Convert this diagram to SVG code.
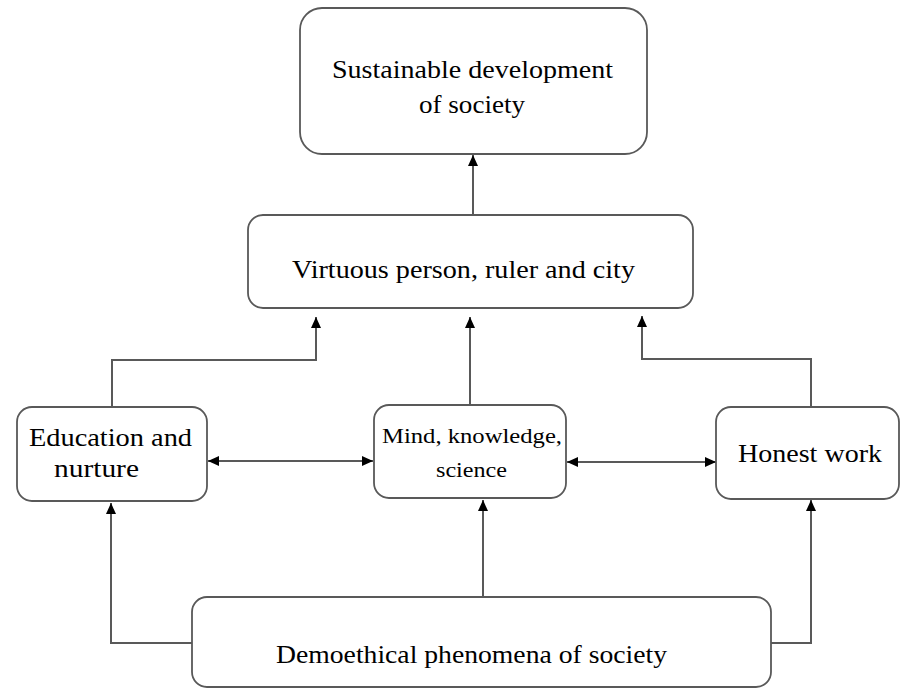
<svg xmlns="http://www.w3.org/2000/svg" width="900" height="688" viewBox="0 0 900 688">
<style>
.box{fill:#fff;stroke:#595959;stroke-width:1.8}
.lbl{font-family:"Liberation Serif","Times New Roman",serif;fill:#000;text-anchor:start}
.con{fill:none;stroke:#595959;stroke-width:2}
</style>
<defs>
<marker id="ah" markerUnits="userSpaceOnUse" markerWidth="12" markerHeight="11" refX="11" refY="5.5" orient="auto-start-reverse" viewBox="0 0 12 11">
<path d="M0,0.5 L11,5.5 L0,10.5 Z" fill="#000"/>
</marker>
</defs>
<rect width="900" height="688" fill="#fff"/>
<g id="connectors">
<path class="con" d="M473,214 V155" marker-end="url(#ah)"/>
<path class="con" d="M112,407 V360 H316 V317" marker-end="url(#ah)"/>
<path class="con" d="M470,405 V317" marker-end="url(#ah)"/>
<path class="con" d="M811,407 V359 H642 V316" marker-end="url(#ah)"/>
<path class="con" d="M208,461 H373" marker-start="url(#ah)" marker-end="url(#ah)"/>
<path class="con" d="M567,462 H716" marker-start="url(#ah)" marker-end="url(#ah)"/>
<path class="con" d="M192,643 H111 V503" marker-end="url(#ah)"/>
<path class="con" d="M483,597 V500" marker-end="url(#ah)"/>
<path class="con" d="M771,643 H811 V500" marker-end="url(#ah)"/>
</g>
<g id="node-sustainable">
<rect class="box" x="300" y="8" width="347" height="146" rx="22"/>
<text class="lbl" x="332" y="78" font-size="25" textLength="281" lengthAdjust="spacingAndGlyphs">Sustainable development</text>
<text class="lbl" x="419" y="113" font-size="25" textLength="106" lengthAdjust="spacingAndGlyphs">of society</text>
</g>
<g id="node-virtuous">
<rect class="box" x="248" y="215" width="445" height="93" rx="15"/>
<text class="lbl" x="292" y="278" font-size="25" textLength="343" lengthAdjust="spacingAndGlyphs">Virtuous person, ruler and city</text>
</g>
<g id="node-education">
<rect class="box" x="17" y="407" width="190" height="94" rx="15"/>
<text class="lbl" x="29" y="446" font-size="25" textLength="163" lengthAdjust="spacingAndGlyphs">Education and</text>
<text class="lbl" x="54" y="477" font-size="25" textLength="85" lengthAdjust="spacingAndGlyphs">nurture</text>
</g>
<g id="node-mind">
<rect class="box" x="374" y="405" width="192" height="93" rx="15"/>
<text class="lbl" x="382" y="443" font-size="22" textLength="180" lengthAdjust="spacingAndGlyphs">Mind, knowledge,</text>
<text class="lbl" x="436" y="477" font-size="22" textLength="71" lengthAdjust="spacingAndGlyphs">science</text>
</g>
<g id="node-honest">
<rect class="box" x="716" y="407" width="183" height="92" rx="15"/>
<text class="lbl" x="738" y="462" font-size="25" textLength="144" lengthAdjust="spacingAndGlyphs">Honest work</text>
</g>
<g id="node-demoethical">
<rect class="box" x="192" y="597" width="579" height="90" rx="15"/>
<text class="lbl" x="276" y="663" font-size="25" textLength="391" lengthAdjust="spacingAndGlyphs">Demoethical phenomena of society</text>
</g>
</svg>
